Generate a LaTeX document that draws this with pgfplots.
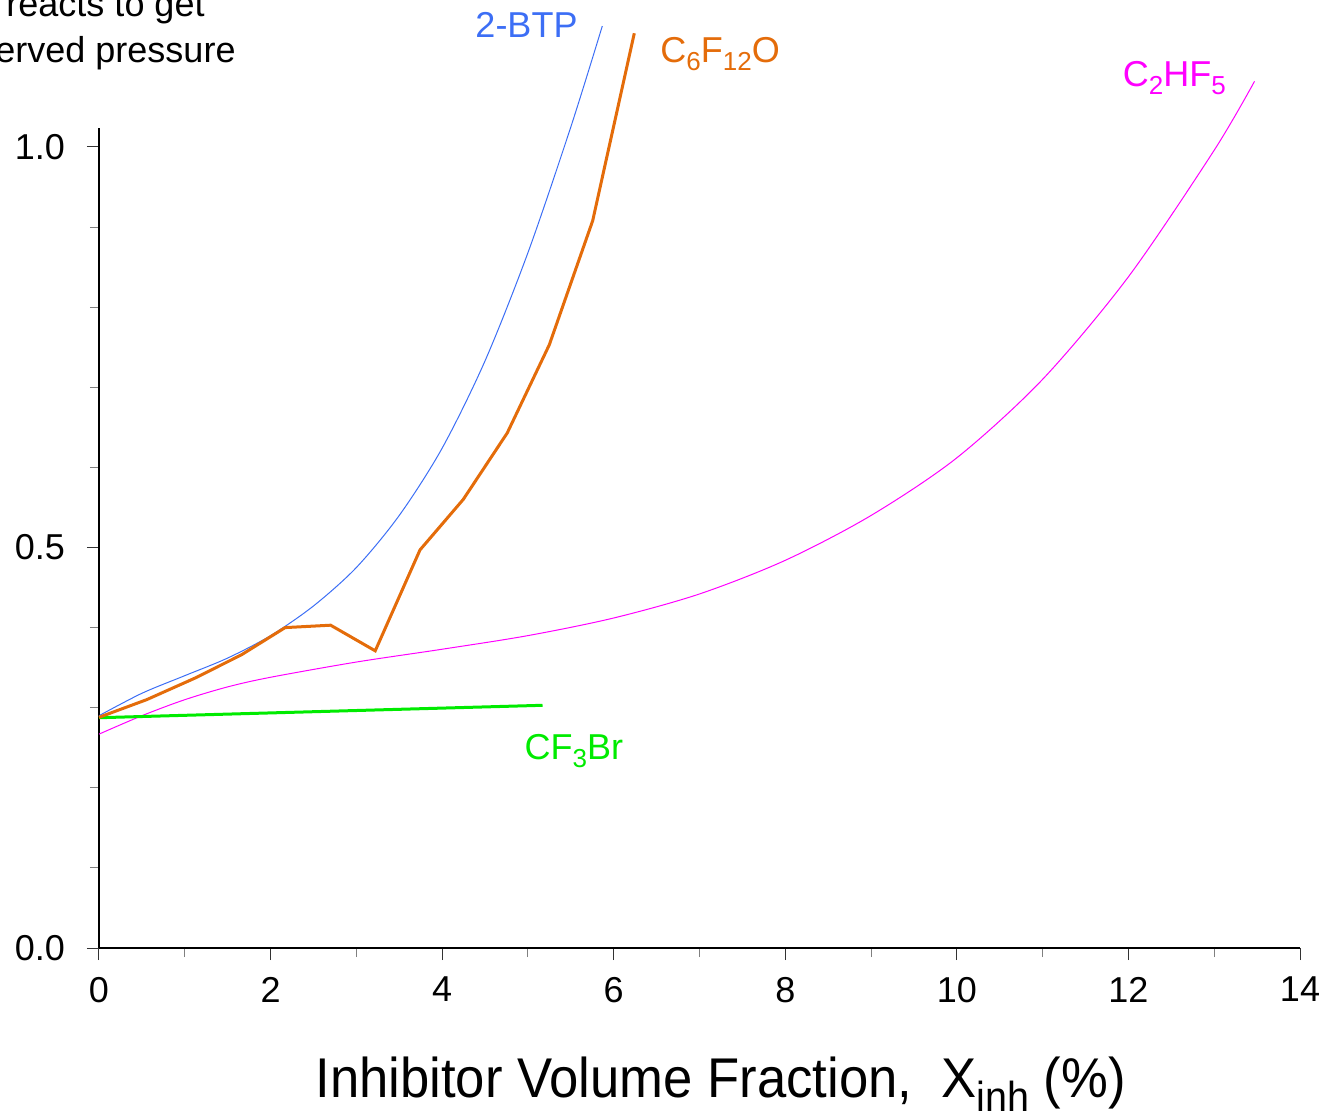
\documentclass[border=0pt]{standalone}
\usepackage{fontspec}
\setmainfont{Liberation Sans}
\usepackage{graphicx}
\usepackage{pgfplots}
\pgfplotsset{compat=1.18}
\definecolor{btpblue}{RGB}{60,110,245}
\definecolor{fkorange}{RGB}{228,108,10}
\definecolor{hfcmagenta}{RGB}{255,0,255}
\definecolor{halongreen}{RGB}{0,235,0}
% chemical-formula subscript for the curve labels
\newcommand\sub[1]{\raisebox{-4pt}{\fontsize{13}{13}\selectfont #1}}

\begin{document}
\begin{tikzpicture}
\begin{axis}[
  at={(0pt,0pt)}, anchor=south west,
  scale only axis, width=600.5pt, height=410pt,
  xmin=0, xmax=14, ymin=0, ymax=1.0237,
  axis lines=left, axis line style={-, line width=0.6pt},
  clip=false,
  xtick={0,2,...,14}, minor xtick={1,3,...,13},
  ytick={0,0.5,1}, minor ytick={0.1,0.2,0.3,0.4,0.6,0.7,0.8,0.9},
  yticklabels={0.0,0.5,1.0},
  tick align=outside,
  major tick length=6pt, minor tick length=4.5pt,
  major tick style={black!80, line width=0.5pt},
  minor tick style={gray, line width=0.5pt},
  tick label style={font=\fontsize{18}{20}\selectfont},
  xticklabel style={yshift=-5pt},
  yticklabel style={xshift=-7.5pt},
  /pgf/number format/assume math mode=true,
]
% 2-BTP
\addplot[btpblue, line width=0.5pt, smooth] coordinates {
  (0,0.290) (0.5,0.318) (1.0,0.340) (1.5,0.362) (2.0,0.390) (2.5,0.427)
  (3.0,0.475) (3.5,0.540) (4.0,0.624) (4.5,0.733) (5.0,0.868) (5.5,1.025)
  (5.867,1.151)};
% C2HF5
\addplot[hfcmagenta, line width=0.5pt, smooth] coordinates {
  (0,0.267) (0.5,0.290) (1,0.310) (1.5,0.326) (2,0.338) (3,0.357)
  (4,0.373) (5,0.390) (6,0.412) (7,0.442) (8,0.484) (9,0.540)
  (10,0.612) (11,0.710) (12,0.838) (13,0.996) (13.47,1.082)};
% CF3Br
\addplot[halongreen, line width=1.5pt] coordinates {(0,0.2875) (5.17,0.303)};
% C6F12O
\addplot[fkorange, line width=1.5pt] coordinates {
  (0,0.288) (0.555,0.310) (1.12,0.337) (1.66,0.366) (2.17,0.400)
  (2.70,0.403) (3.22,0.371) (3.742,0.497) (4.246,0.560) (4.759,0.643)
  (5.249,0.753) (5.755,0.908) (6.24,1.142)};

\begin{scope}[every node/.style={inner sep=0pt, font=\fontsize{18}{20}\selectfont}]
\node[anchor=base west, text=btpblue] at (axis cs:4.384,1.137) {2-BTP};
\node[anchor=base west, text=fkorange] at (axis cs:6.54,1.105) {C\sub{6}F\sub{12}O};
\node[anchor=base west, text=hfcmagenta] at (axis cs:11.93,1.076) {C\sub{2}HF\sub{5}};
\node[anchor=base west, text=halongreen] at (axis cs:4.958,0.2355) {CF\sub{3}Br};
\node[anchor=base east] at (axis cs:1.236,1.1623) {Fraction of fuel which reacts to get};
\node[anchor=base east] at (axis cs:1.597,1.105) {the observed pressure};
\end{scope}
\node[anchor=base west, inner sep=0pt, font=\fontsize{28}{30}\selectfont]
  at (axis cs:2.518,-0.186)
  {\scalebox{0.94}[1]{Inhibitor Volume Fraction,\ \ X\raisebox{-7pt}{\fontsize{21}{21}\selectfont inh} (\%)}};
\end{axis}
\pgfresetboundingbox
\path[use as bounding box] (-49.5pt,-81pt) rectangle (613pt,474pt);
\end{tikzpicture}
\end{document}
